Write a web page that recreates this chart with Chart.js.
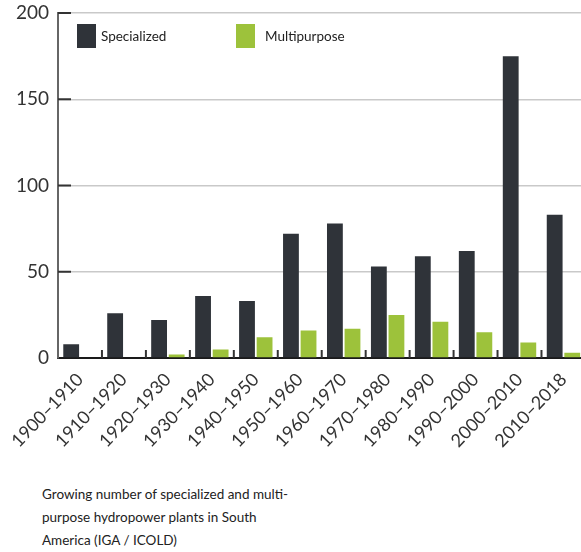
<!DOCTYPE html>
<html>
<head>
<meta charset="utf-8">
<script src="https://cdn.jsdelivr.net/npm/chart.js@4.4.1/dist/chart.umd.min.js"></script>
<style>
  html, body { margin: 0; padding: 0; background: #fff; overflow: hidden; }
  #wrap { position: relative; width: 590px; height: 470px; }
  #caption {
    position: absolute; left: 42px; top: 483px;
    font-family: Lato, sans-serif; font-size: 13.5px; line-height: 23px; color: #222;
  }
</style>
</head>
<body>
<div id="wrap"><canvas id="hydroChart" width="590" height="470"></canvas></div>
<div id="caption">Growing number of specialized and multi-<br>purpose hydropower plants in South<br>America (IGA / ICOLD)</div>
<script>
const decades = ['1900–1910', '1910–1920', '1920–1930', '1930–1940', '1940–1950', '1950–1960',
  '1960–1970', '1970–1980', '1980–1990', '1990–2000', '2000–2010', '2010–2018'];
const specialized = [8, 26, 22, 36, 33, 72, 78, 53, 59, 62, 175, 83];
const multipurpose = [0, 0, 2, 5, 12, 16, 17, 25, 21, 15, 9, 3];
const yTicks = [0, 50, 100, 150, 200];

const darkBar = '#2f3339';
const greenBar = '#9dc23b';

// tick marks drawn inside the plot + legend in the top-left corner
const axisMarks = {
  id: 'axisMarks',
  afterDatasetsDraw(chart) {
    const { ctx, chartArea, scales: { x, y } } = chart;
    ctx.save();
    ctx.strokeStyle = '#333';
    ctx.lineWidth = 2;
    yTicks.forEach((v) => {
      if (v === 0) return;
      const py = y.getPixelForValue(v);
      ctx.beginPath();
      ctx.moveTo(chartArea.left, py);
      ctx.lineTo(chartArea.left + 13, py);
      ctx.stroke();
    });
    for (let i = 1; i < decades.length; i++) {
      const px = (x.getPixelForTick(i - 1) + x.getPixelForTick(i)) / 2;
      ctx.beginPath();
      ctx.moveTo(px, chartArea.bottom);
      ctx.lineTo(px, chartArea.bottom - 8);
      ctx.stroke();
    }

    // legend
    ctx.font = '13.5px Lato, sans-serif';
    ctx.textBaseline = 'middle';
    chart.data.datasets.forEach((ds, i) => {
      const bx = chartArea.left + 19 + i * 159;
      const by = 24;
      ctx.fillStyle = ds.backgroundColor;
      ctx.fillRect(bx, by, 19, 24);
      ctx.fillStyle = '#222';
      ctx.fillText(ds.label, bx + 19 + 5 + i * 5, by + 13);
    });
    ctx.restore();
  },
};

const ctx = document.getElementById('hydroChart').getContext('2d');
const hydroChart = new Chart(ctx, {
  type: 'bar',
  data: {
    labels: decades,
    datasets: [
      { label: 'Specialized', data: specialized, backgroundColor: darkBar },
      { label: 'Multipurpose', data: multipurpose, backgroundColor: greenBar },
    ],
  },
  options: {
    responsive: false,
    animation: false,
    layout: { padding: 0 },
    datasets: { bar: { categoryPercentage: 0.8, barPercentage: 0.9 } },
    plugins: { legend: { display: false }, tooltip: { enabled: false } },
    scales: {
      x: {
        afterFit(scale) { scale.height = 112; },
        grid: { display: true, drawOnChartArea: false, drawTicks: false },
        border: { display: true, color: '#1a1a1a', width: 2 },
        ticks: {
          autoSkip: false,
          minRotation: 46,
          maxRotation: 46,
          padding: 11,
          color: '#333',
          font: { family: 'Lato, sans-serif', size: 18 },
        },
      },
      y: {
        min: 0,
        max: 200,
        afterFit(scale) {
          scale.width = 58;
          // keep the 200 line close to the top edge
          scale.paddingTop = 13;
          scale.paddingBottom = 0;
        },
        afterBuildTicks(scale) { scale.ticks = yTicks.map((v) => ({ value: v })); },
        grid: {
          drawTicks: false,
          lineWidth: 1.5,
          color: (c) => (c.tick && c.tick.value === 0 ? 'rgba(0,0,0,0)' : '#c9c9c9'),
        },
        border: { display: true, color: '#666', width: 2 },
        ticks: {
          padding: 9,
          color: '#333',
          font: { family: 'Lato, sans-serif', size: 19 },
        },
      },
    },
  },
  plugins: [axisMarks],
});
</script>
</body>
</html>
